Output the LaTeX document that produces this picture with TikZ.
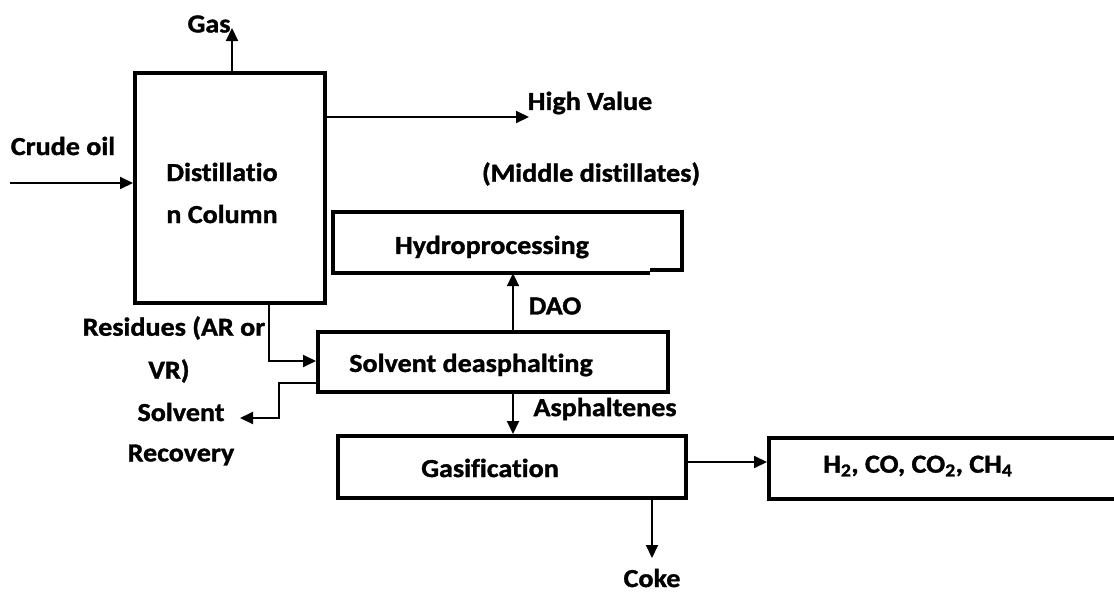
\documentclass[tikz,border=0pt]{standalone}
\usepackage{fontspec}
\setmainfont{Carlito}[FakeStretch=1.08, Ligatures=NoCommon, BoldFeatures={FakeBold=1.3}]
\usetikzlibrary{arrows.meta}
\begin{document}
\begin{tikzpicture}[x=1pt,y=-1pt,
  font=\fontsize{26}{30}\selectfont\bfseries,
  blk/.style={draw, line width=4pt, rectangle, inner sep=0pt},
  lbl/.style={inner sep=0pt, align=center},
  flow/.style={line width=2pt, -{Triangle[length=13pt,width=12pt]}},
  wire/.style={line width=2pt}]
\useasboundingbox (0,0) rectangle (1114,592);
\begin{scope}
\clip (0,0) rectangle (1114,592);
% boxes
\node[blk, minimum width=190pt, minimum height=230pt] (dist) at (230,188) {};
\node[lbl, font=\fontsize{26}{42}\selectfont\bfseries] (distt) at (222,193) {Distillatio\\n Column};
\node[inner sep=0pt, minimum width=349pt, minimum height=61pt] (hydro) at (507.5,242.5) {};
\draw[line width=4pt, line join=miter] (650,273) -- (333,273) -- (333,212) -- (682,212) -- (682,270) -- (650,270);
\node[lbl] (hydrot) at (492,247) {Hydroprocessing};
\node[blk, minimum width=350pt, minimum height=60pt] (solv) at (493,362) {};
\node[lbl] (solvt) at (471,365) {Solvent deasphalting};
\node[blk, minimum width=348pt, minimum height=62pt] (gas) at (512,467) {};
\node[lbl] (gast) at (490,468) {Gasification};
\node[blk, minimum width=380pt, minimum height=61pt, anchor=west] (hh) at (767,468.5) {};
\node[lbl, anchor=west] (hht) at (823,466) {H\textsubscript{2}, CO, CO\textsubscript{2}, CH\textsubscript{4}};
\end{scope}
% labels
\node[lbl] (gasl) at (209,24) {Gas};
\node[lbl] (crude) at (63,146) {Crude oil};
\node[lbl] (high) at (590,103) {High Value};
\node[lbl] (mid) at (591,174) {(Middle distillates)};
\node[lbl] (dao) at (555,306) {DAO};
\node[lbl] (res1) at (174,328) {Residues (AR or};
\node[lbl] (res2) at (169,371) {VR)};
\node[lbl] (sr1) at (181,412) {Solvent};
\node[lbl] (sr2) at (181,455) {Recovery};
\node[lbl] (asph) at (605,409) {Asphaltenes};
\node[lbl] (coke) at (652,578) {Coke};
% free ends
\coordinate (gasend) at (232,28);
\coordinate (crudestart) at (10,183);
\coordinate (highend) at (529,117);
\coordinate (srend) at (240,418);
\coordinate (cokeend) at (652,558);
% connectors
\draw[flow] (dist.north -| gasend) -- (gasend);
\draw[flow] (crudestart) -- (dist.west |- crudestart);
\draw[flow] (dist.east |- highend) -- (highend);
\draw[flow] (269,305) -- (269,361) -- (solv.west |- 0,361);
\draw[flow] (solv.west |- 0,383) -- (279,383) -- (279,418) -- (srend);
\draw[flow] (solv.north -| 513,0) -- (hydro.south -| 513,0);
\draw[flow] (solv.south -| 513,0) -- (gas.north -| 513,0);
\draw[flow] (gas.south -| cokeend) -- (cokeend);
\draw[flow] (gas.east |- 0,462) -- (hh.west |- 0,462);
\end{tikzpicture}
\end{document}
